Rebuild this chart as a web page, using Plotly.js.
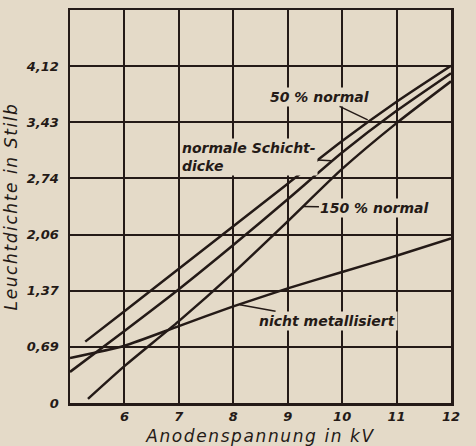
<!DOCTYPE html>
<html>
<head>
<meta charset="utf-8">
<script src="https://cdn.plot.ly/plotly-3.0.1.min.js"></script>
<style>
  html, body { margin: 0; padding: 0; background: #e4dac8; }
  #chart { width: 476px; height: 446px; }
  .xtitle, .ytitle { letter-spacing: 1.6px; }
</style>
</head>
<body>
<div id="chart"></div>
<script>
// Anodenspannung (kV) and Leuchtdichte (Stilb)
const x50 = [5.28, 6, 7, 8, 9, 10, 11, 12];
const y50 = [0.75, 1.12, 1.64, 2.16, 2.68, 3.20, 3.68, 4.12];

const xNormal = [5, 6, 7, 8, 9, 10, 11, 12];
const yNormal = [0.38, 0.88, 1.39, 1.93, 2.49, 3.06, 3.57, 4.03];

const x150 = [5.33, 6, 7, 8, 9, 10, 11, 12];
const y150 = [0.05, 0.45, 1.00, 1.59, 2.22, 2.86, 3.42, 3.93];

const xNicht = [5, 6, 7, 8, 9, 10, 11, 12];
const yNicht = [0.55, 0.70, 0.94, 1.18, 1.40, 1.60, 1.80, 2.01];

const xTicks = [6, 7, 8, 9, 10, 11, 12];
const yTickVals = [0, 0.686, 1.372, 2.058, 2.744, 3.43, 4.116, 4.802];
const yTickText = ['0', '0,69', '1,37', '2,06', '2,74', '3,43', '4,12', ''];

const ink = '#241a17';
const paper = '#e4dac8';
const font = 'DejaVu Sans, sans-serif';

function series(x, y, name) {
  return { x: x, y: y, name: name, type: 'scatter', mode: 'lines',
           line: { color: ink, width: 2.5, shape: 'spline', smoothing: 0.6 },
           hoverinfo: 'skip' };
}

const data = [
  series(x50, y50, '50 % normal'),
  series(xNormal, yNormal, 'normale Schichtdicke'),
  series(x150, y150, '150 % normal'),
  series(xNicht, yNicht, 'nicht metallisiert')
];

function label(text, x, y, ax, ay, align) {
  return { text: text, x: x, y: y, xref: 'x', yref: 'y', ax: ax, ay: ay,
           showarrow: true, arrowhead: 0, arrowwidth: 1.5, arrowcolor: ink,
           bgcolor: paper, borderpad: 1, align: align || 'center',
           font: { family: font, size: 14, color: ink, style: 'italic', weight: 'bold' } };
}

const layout = {
  width: 476, height: 446,
  margin: { l: 70, r: 25, t: 10, b: 43 },
  paper_bgcolor: paper, plot_bgcolor: paper,
  showlegend: false,
  font: { family: font, color: ink },
  xaxis: {
    range: [5, 12], tickvals: xTicks, ticktext: xTicks.map(String),
    showgrid: true, gridcolor: ink, gridwidth: 2,
    showline: true, linecolor: ink, linewidth: 2.5, mirror: true,
    ticks: '', zeroline: false,
    tickfont: { family: font, size: 13, color: ink, weight: 'bold', style: 'italic' },
    title: { text: 'Anodenspannung in kV', standoff: 7,
             font: { family: font, size: 17, color: ink, style: 'italic' } }
  },
  yaxis: {
    range: [0, 4.802], tickvals: yTickVals, ticktext: yTickText,
    showgrid: true, gridcolor: ink, gridwidth: 2,
    showline: true, linecolor: ink, linewidth: 2.5, mirror: true,
    ticks: '', zeroline: false, ticklabelstandoff: 6,
    tickfont: { family: font, size: 13, color: ink, weight: 'bold', style: 'italic' },
    title: { text: 'Leuchtdichte in Stilb', standoff: 4,
             font: { family: font, size: 17, color: ink, style: 'italic' } }
  },
  annotations: [
    label('50 % normal', 10.47, 3.46, -48, -23),
    label('normale Schicht-<br>dicke', 9.8, 2.96, -82, -4, 'left'),
    label('150 % normal', 9.28, 2.40, 72, 1),
    label('nicht metallisiert', 8.12, 1.2, 88, 16)
  ]
};

Plotly.newPlot('chart', data, layout, { staticPlot: true, displayModeBar: false });
</script>
</body>
</html>
